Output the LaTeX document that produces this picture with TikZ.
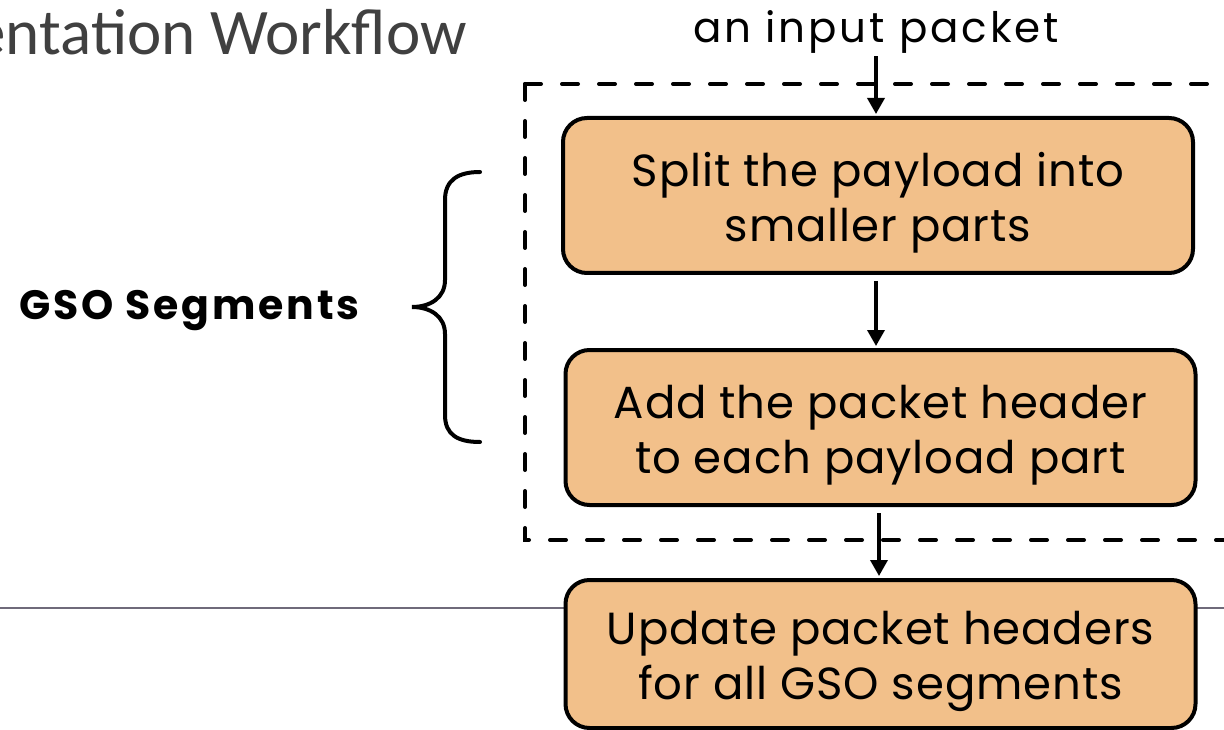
\documentclass[tikz,border=0pt]{standalone}
\usepackage{fontspec}
\setmainfont{Poppins}
\newfontfamily\titlefont{Carlito}
\usetikzlibrary{arrows.meta}
\definecolor{boxfill}{HTML}{F2C08A}
\definecolor{rulegray}{HTML}{6F6A7A}
\definecolor{titlegray}{HTML}{404040}
% taller first line, so the two lines sit a little low in each box
\newcommand\boxstrut{\rule{0pt}{48pt}}

\begin{document}
\begin{tikzpicture}[x=1pt,y=-1pt,
  stepbox/.style={draw=black, line width=4pt, rounded corners=24pt, fill=boxfill,
    minimum width=630pt, minimum height=155pt, align=center, inner sep=0pt,
    font=\fontsize{45}{55}\selectfont\addfontfeatures{LetterSpace=2}},
  flow/.style={line width=3.5pt, -{Triangle[length=16pt,width=17pt]}},
  dashframe/.style={line width=4pt, dash pattern=on 16pt off 21pt, line cap=round},
  brace/.style={line width=4pt, line cap=round},
]
\useasboundingbox (0,0) rectangle (1224,730);
\begin{scope}
\clip (0,0) rectangle (1224,730);

% slide title and separator rule
\node[anchor=base east, inner sep=0pt, text=titlegray,
      font=\titlefont\fontsize{65}{65}\selectfont] (title) at (467,55) {entation Workflow};
\draw[rulegray, line width=1.5pt] (0,608) -- (1224,608);

% GSO segmentation frame
\draw[dashframe] (525,84) -- (1240,84);
\draw[dashframe] (525,84) -- (525,540) -- (1240,540);

% workflow steps
\node[anchor=base, inner sep=0pt,
      font=\fontsize{42}{42}\selectfont\addfontfeatures{LetterSpace=7}] (inp) at (876,43) {an input packet};
\node[stepbox] (b1) at (878,195.5) {\boxstrut Split the payload into\\smaller parts};
\node[stepbox] (b2) at (880.5,427.5) {\boxstrut Add the packet header\\to each payload part};
\node[stepbox, minimum height=148pt] (b3) at (880.5,654) {\boxstrut Update packet headers\\for all GSO segments};

\draw[flow, shorten <=2pt, shorten >=2pt] (inp.south) -- (inp.south |- b1.north);
\draw[flow, shorten <=6pt, shorten >=2pt] ([xshift=-2pt]b1.south) -- ([xshift=-2pt]b1.south |- b2.north);
\draw[flow, shorten <=6pt, shorten >=2pt] ([xshift=-1.5pt]b2.south) -- ([xshift=-1.5pt]b2.south |- b3.north);

% brace and its label
\draw[brace] (480,172) .. controls (458,172) and (445,180) .. (445,200)
  -- (445,280) .. controls (445,298) and (430,307) .. (412,307)
  .. controls (430,307) and (445,316) .. (445,334)
  -- (445,415) .. controls (445,435) and (458,442) .. (480,442);
\node[anchor=base west, inner sep=0pt,
      font=\bfseries\fontsize{41}{41}\selectfont\addfontfeatures{LetterSpace=7}] (gso) at (19,319) {GSO Segments};
\end{scope}
\end{tikzpicture}
\end{document}
